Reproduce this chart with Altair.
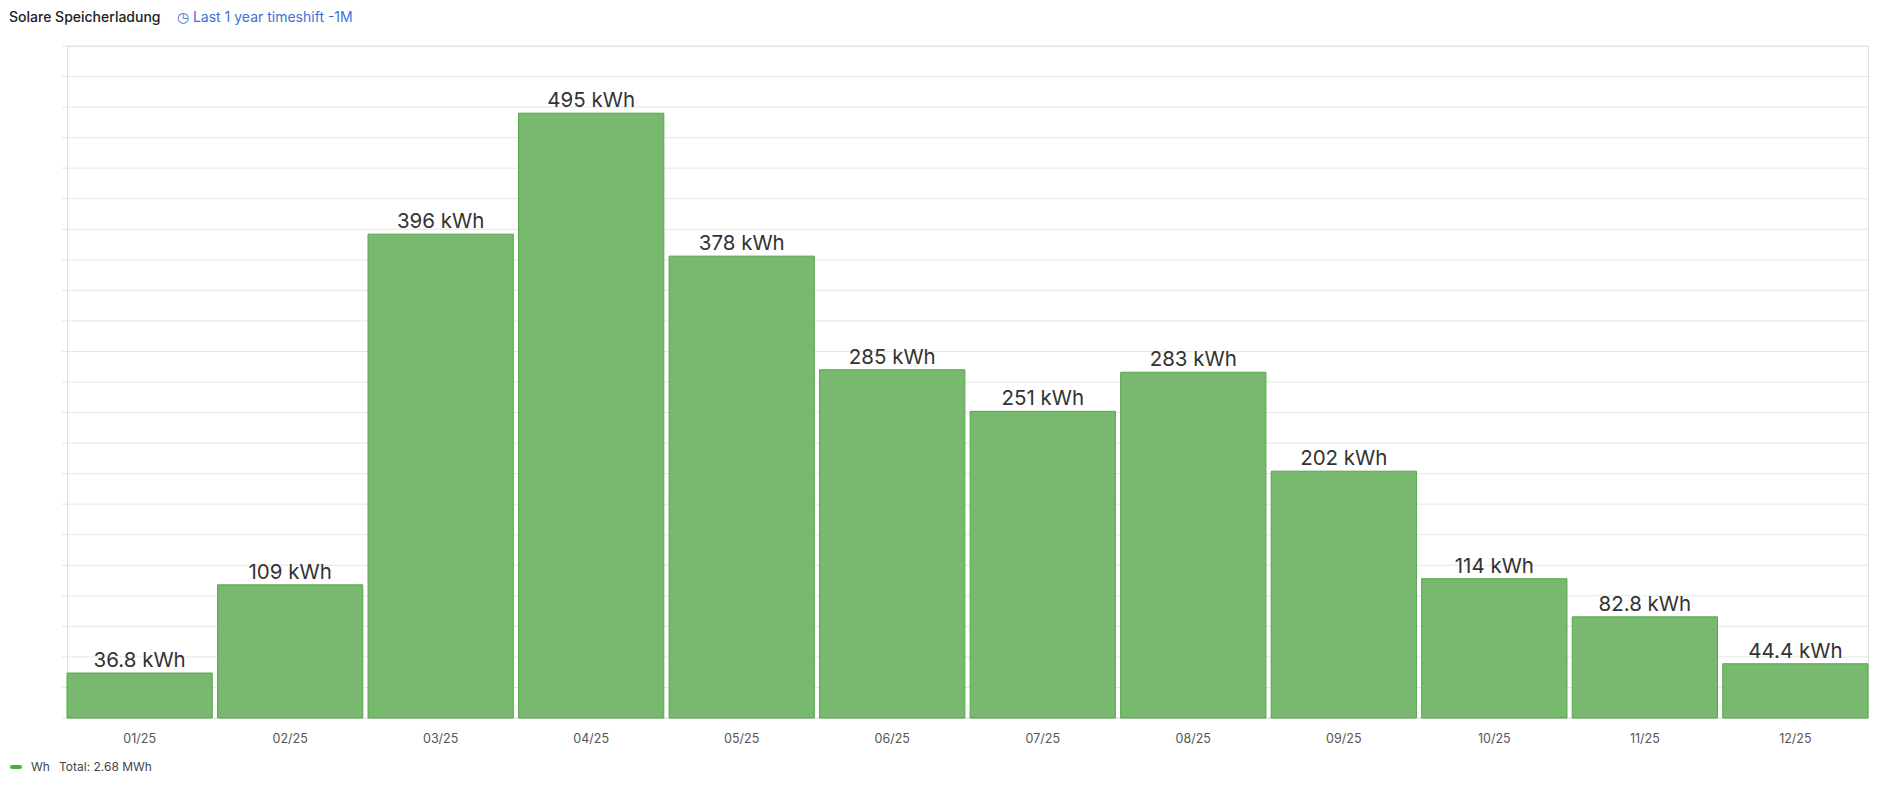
import altair as alt
import pandas as pd

months = ["01/25", "02/25", "03/25", "04/25", "05/25", "06/25",
          "07/25", "08/25", "09/25", "10/25", "11/25", "12/25"]
kwh = [36.8, 109, 396, 495, 378, 285, 251, 283, 202, 114, 82.8, 44.4]
grid_values = list(range(0, 551, 25))

title_text = "Solare Speicherladung"
time_text = "\u25f7 Last 1 year timeshift -1M"
series_name = "Wh"
total_mwh = sum(kwh) / 1000.0
total_text = f"Total: {total_mwh:.2f} MWh"

df = pd.DataFrame({"month": months, "kwh": kwh})
grid_df = pd.DataFrame({"kwh": grid_values})

FONT = "Inter"
W, H = 1801, 672

yscale = alt.Scale(domain=[0, 550], nice=False)

grid = alt.Chart(grid_df).mark_rule(color="#e6e6e6", strokeWidth=1).encode(
    y=alt.Y("kwh:Q", scale=yscale,
            axis=alt.Axis(title=None, values=grid_values,
                          labelExpr="datum.value == 0 ? '0 Wh' : datum.value + ' kWh'",
                          labelOverlap=False, labelBound=False, grid=False,
                          domain=False, ticks=False, labelPadding=9, labelFontSize=12,
                          labelColor="#555555", labelFont=FONT)),
    x=alt.value(-5),
    x2=alt.value(W),
)

base = alt.Chart(df).transform_calculate(
    lab="format(datum.kwh, '.3~r') + ' kWh'"
).encode(
    x=alt.X("month:N", sort=months,
            scale=alt.Scale(paddingInner=0.035, paddingOuter=0),
            axis=alt.Axis(title=None, labelAngle=0, ticks=False, domain=False,
                          labelPadding=14, labelFontSize=12.5, labelColor="#555555",
                          labelFont=FONT, grid=False)),
    y=alt.Y("kwh:Q", scale=yscale, axis=None),
)

bars = base.mark_bar(color="#78b86f", stroke="#56a64b", strokeWidth=1)

labels = base.mark_text(baseline="bottom", dy=-2, fontSize=20.5, font=FONT,
                        color="#333333").encode(text="lab:N")

one = alt.Data(values=[{}])

title_mark = alt.Chart(one).mark_text(
    text=title_text, align="left", baseline="middle", fontSize=14,
    font=FONT, fontWeight=500, color="#222222"
).encode(x=alt.value(-58), y=alt.value(-28))

time_mark = alt.Chart(one).mark_text(
    text=time_text, align="left", baseline="middle", fontSize=14,
    font=FONT, color="#3d71d9"
).encode(x=alt.value(110), y=alt.value(-28))

legend_line = alt.Chart(one).mark_rect(
    color="#56a64b", cornerRadius=2
).encode(x=alt.value(-57), x2=alt.value(-45), y=alt.value(719), y2=alt.value(723))

legend_name = alt.Chart(one).mark_text(
    text=series_name, align="left", baseline="middle", fontSize=12,
    font=FONT, color="#444444"
).encode(x=alt.value(-36), y=alt.value(721))

legend_total = alt.Chart(one).mark_text(
    text=total_text, align="left", baseline="middle", fontSize=12,
    font=FONT, color="#444444"
).encode(x=alt.value(-8), y=alt.value(721))

chart = alt.layer(
    grid, bars, labels, title_mark, time_mark, legend_line, legend_name, legend_total
).properties(
    width=W, height=H,
    autosize=alt.AutoSizeParams(type="none"),
    padding={"left": 59, "top": 38, "right": 5, "bottom": 60},
).configure_view(stroke="transparent").configure_axis(
    domain=False, grid=False
).configure(background="white")

chart.save("out.html", embed_options={"renderer": "svg", "actions": False})
